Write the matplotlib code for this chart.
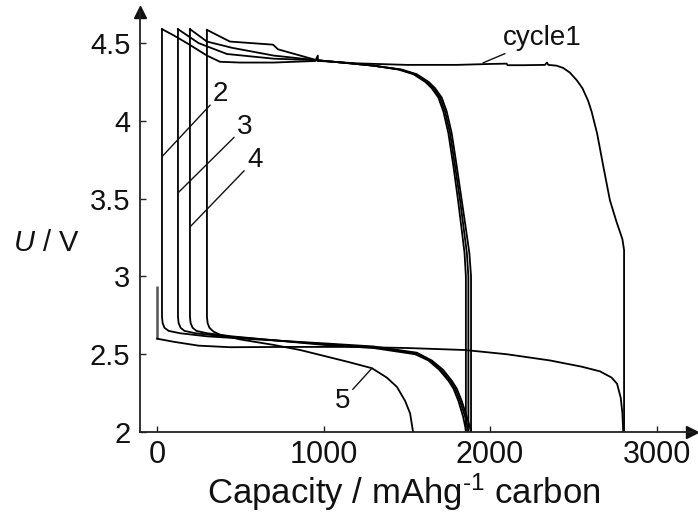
import matplotlib
matplotlib.use("Agg")
import matplotlib.pyplot as plt

plt.rcParams['font.family'] = ['Liberation Sans', 'DejaVu Sans']
plt.rcParams['mathtext.fontset'] = 'custom'
plt.rcParams['mathtext.rm'] = 'Liberation Sans'
plt.rcParams['mathtext.it'] = 'Liberation Sans:italic'

# ---------------- data (capacity mAh/g, voltage V) ----------------
ocv_x = [0, 0]
ocv_y = [2.94, 2.60]

dis1_x = [0, 100, 250, 440, 800, 1159, 1500, 1850, 2100, 2360, 2550, 2660, 2730, 2763, 2785, 2795, 2800]
dis1_y = [2.60, 2.58, 2.555, 2.545, 2.547, 2.547, 2.54, 2.527, 2.50, 2.46, 2.42, 2.39, 2.35, 2.31, 2.22, 2.12, 2.0]

ch1_x = [2805, 2805, 2795, 2760, 2720, 2680, 2643, 2610, 2589, 2555, 2522, 2480, 2440, 2400, 2350, 2342, 2330,
         2200, 2105, 2100, 2000, 1800, 1500, 1200, 980, 966, 966, 950, 700, 500, 378, 300, 180, 100, 30]
ch1_y = [2.0, 3.17, 3.24, 3.35, 3.49, 3.71, 3.92, 4.06, 4.13, 4.21, 4.26, 4.31, 4.34, 4.355, 4.36, 4.375, 4.36,
         4.358, 4.358, 4.368, 4.366, 4.36, 4.36, 4.37, 4.385, 4.385, 4.42, 4.385, 4.375, 4.375, 4.38, 4.42, 4.50,
         4.55, 4.59]

dis2_x = [30, 30, 34, 45, 70, 138, 300, 600, 1000, 1300, 1560, 1650, 1718, 1770, 1800, 1830, 1860, 1880, 1886]
dis2_y = [4.59, 2.74, 2.70, 2.67, 2.65, 2.635, 2.615, 2.595, 2.57, 2.55, 2.51, 2.46, 2.40, 2.33, 2.28, 2.20, 2.10, 2.03, 2.0]

ch2_x = [1886, 1886, 1876, 1856, 1830, 1800, 1770, 1740, 1710, 1670, 1632, 1560, 1470, 1300, 1160, 960, 700, 420, 250, 126]
ch2_y = [2.0, 3.00, 3.15, 3.30, 3.49, 3.71, 3.92, 4.06, 4.15, 4.21, 4.25, 4.30, 4.33, 4.355, 4.37, 4.39, 4.40, 4.43, 4.50, 4.59]

dis3_x = [126, 126, 130, 142, 165, 230, 400, 700, 1000, 1300, 1560, 1640, 1705, 1760, 1790, 1820, 1850, 1866, 1870]
dis3_y = [4.59, 2.74, 2.70, 2.67, 2.65, 2.635, 2.615, 2.59, 2.565, 2.545, 2.505, 2.46, 2.40, 2.33, 2.28, 2.20, 2.10, 2.03, 2.0]

ch3_x = [1870, 1870, 1861, 1843, 1820, 1790, 1760, 1730, 1700, 1660, 1622, 1550, 1460, 1300, 1160, 960, 700, 450, 300, 198]
ch3_y = [2.0, 3.00, 3.15, 3.30, 3.49, 3.71, 3.92, 4.06, 4.15, 4.21, 4.25, 4.30, 4.33, 4.355, 4.37, 4.39, 4.42, 4.47, 4.51, 4.59]

dis4_x = [198, 198, 202, 214, 237, 300, 450, 700, 1000, 1300, 1550, 1630, 1695, 1750, 1780, 1810, 1838, 1852, 1855]
dis4_y = [4.59, 2.74, 2.70, 2.67, 2.65, 2.635, 2.615, 2.59, 2.56, 2.54, 2.50, 2.46, 2.40, 2.33, 2.28, 2.20, 2.10, 2.03, 2.0]

ch4_x = [1855, 1855, 1847, 1830, 1808, 1780, 1750, 1720, 1690, 1650, 1612, 1540, 1450, 1300, 1160, 960, 727, 697, 438, 300]
ch4_y = [2.0, 3.00, 3.15, 3.30, 3.49, 3.71, 3.92, 4.06, 4.15, 4.21, 4.25, 4.30, 4.33, 4.355, 4.37, 4.39, 4.46, 4.49, 4.51, 4.585]

dis5_x = [300, 300, 304, 315, 340, 380, 500, 700, 860, 1000, 1150, 1291, 1380, 1441, 1490, 1520, 1538]
dis5_y = [4.585, 2.74, 2.70, 2.67, 2.645, 2.625, 2.595, 2.56, 2.527, 2.49, 2.45, 2.41, 2.35, 2.29, 2.20, 2.12, 2.0]

x_ticks = [0, 1000, 2000, 3000]
y_ticks = [2, 2.5, 3, 3.5, 4, 4.5]
y_ticklabels = ['2', '2.5', '3', '3.5', '4', '4.5']

# ---------------- figure ----------------
W, H = 698, 517
fig = plt.figure(figsize=(W / 100, H / 100), dpi=100)
ax = fig.add_axes([140 / W, 85 / H, (692 - 140) / W, (432 - 12) / H])
ax.set_xlim(-102, 3213)
ax.set_ylim(2.0, 4.70)

lc = 'black'
lw = 1.3
ax.plot(ocv_x, ocv_y, color='#555555', lw=1.8, solid_capstyle='butt')
for xs, ys in [(dis1_x, dis1_y), (ch1_x, ch1_y), (dis2_x, dis2_y), (ch2_x, ch2_y),
               (dis3_x, dis3_y), (ch3_x, ch3_y), (dis4_x, dis4_y), (ch4_x, ch4_y),
               (dis5_x, dis5_y)]:
    ax.plot(xs, ys, color=lc, lw=lw, solid_joinstyle='round')

# axes styling
for s in ['top', 'right']:
    ax.spines[s].set_visible(False)
for s in ['left', 'bottom']:
    ax.spines[s].set_color('#222222')
    ax.spines[s].set_linewidth(1.3)
ax.plot([1], [0], marker='>', color='#111111', markersize=9, transform=ax.transAxes, clip_on=False)
ax.plot([0], [1], marker='^', color='#111111', markersize=9, transform=ax.transAxes, clip_on=False)

ax.set_xticks(x_ticks)
ax.set_yticks(y_ticks)
ax.set_yticklabels(y_ticklabels)
ax.tick_params(direction='in', length=4, width=1, colors='#222222', labelsize=21, pad=7)
ax.tick_params(axis='x', labelsize=22, pad=6)
for lab in ax.get_xticklabels() + ax.get_yticklabels():
    lab.set_color('#111111')

fig.text(46 / W, 1 - 243 / H, r'$U$ / V', fontsize=21, ha='center', va='center', color='#111111')
fig.text(404 / W, 1 - 492 / H, r'Capacity / mAhg$^{\text{-}1}$ carbon', fontsize=25, ha='center', va='center',
         color='#111111')

# curve labels with leader lines
lab_kw = dict(fontsize=20, color='#111111',
              arrowprops=dict(arrowstyle='-', color='#111111', lw=1.0, shrinkA=0, shrinkB=0))
ax.annotate('2', xy=(30, 3.77), xytext=(336, 4.09), ha='left', va='bottom', **lab_kw)
ax.annotate('3', xy=(126, 3.537), xytext=(480, 3.878), ha='left', va='bottom', **lab_kw)
ax.annotate('4', xy=(198, 3.318), xytext=(540, 3.666), ha='left', va='bottom', **lab_kw)
ax.annotate('5', xy=(1291, 2.41), xytext=(1159, 2.283), ha='right', va='top', **lab_kw)
ax.annotate('cycle1', xy=(1958, 4.373), xytext=(2078, 4.489), ha='left', va='baseline', **lab_kw)

fig.savefig('out.png', dpi=100)
